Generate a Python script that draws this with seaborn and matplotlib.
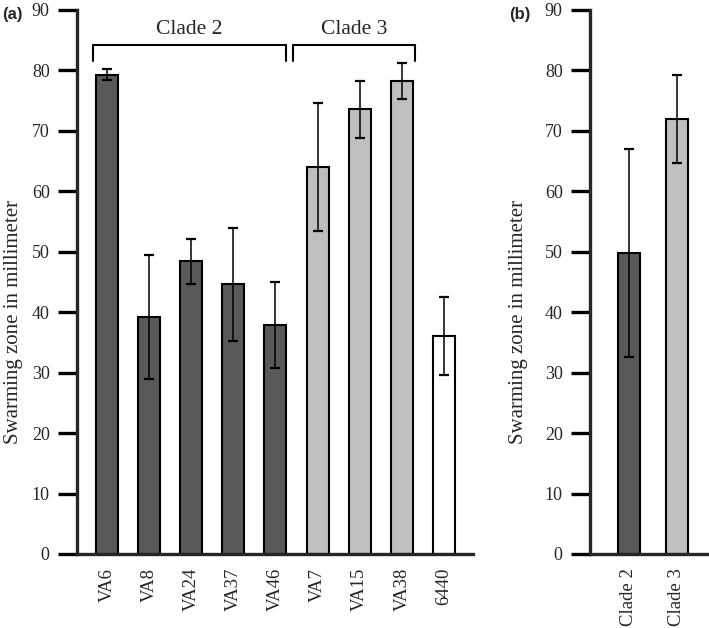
import matplotlib
matplotlib.use('Agg')  # Headless
import matplotlib.pyplot as plt
import seaborn as sns
import pandas as pd

# panel (a): strains
strains = ['VA6', 'VA8', 'VA24', 'VA37', 'VA46', 'VA7', 'VA15', 'VA38', '6440']
groups = ['Clade 2'] * 5 + ['Clade 3'] * 3 + ['Ref']
swarm_mm = [79.3, 39.2, 48.4, 44.6, 37.9, 64.0, 73.6, 78.3, 36.1]
swarm_err = [0.9, 10.3, 3.65, 9.35, 7.1, 10.6, 4.7, 2.95, 6.5]

# panel (b): clade means
clades = ['Clade 2', 'Clade 3']
clade_mm = [49.8, 72.0]
clade_err = [17.2, 7.3]

colors = {'Clade 2': '#595959', 'Clade 3': '#bfbfbf', 'Ref': '#ffffff'}

sns.set_style("ticks")
plt.rcParams['font.family'] = ['Liberation Serif', 'DejaVu Serif']
plt.rcParams['axes.linewidth'] = 2.4

df_a = pd.DataFrame({'strain': strains, 'group': groups, 'mm': swarm_mm})
df_b = pd.DataFrame({'clade': clades, 'mm': clade_mm})

fig = plt.figure(figsize=(7.09, 6.28), dpi=100)
ax1 = fig.add_axes([77 / 709, 74 / 628, 396 / 709, 544 / 628])
ax2 = fig.add_axes([590 / 709, 74 / 628, 118 / 709, 544 / 628])


def style_axis(ax):
    ax.set_ylim(0, 90)
    ax.set_yticks(range(0, 91, 10))
    sns.despine(ax=ax)
    ax.tick_params(axis='y', length=13.7, width=2.4, labelsize=13, pad=6, color='black')
    ax.tick_params(axis='x', length=0, labelsize=13.5, pad=10, rotation=90)
    ax.set_xlabel('')
    ax.set_ylabel('Swarming zone in millimeter', fontsize=15)


sns.barplot(data=df_a, x='strain', y='mm', hue='group', palette=colors, dodge=False,
            width=0.52, edgecolor='black', linewidth=1.5, legend=False, ax=ax1)
ax1.errorbar(range(len(strains)), swarm_mm, yerr=swarm_err, fmt='none', ecolor='black',
             elinewidth=1.1, capsize=3.3, capthick=1.6)
ax1.set_xlim(-0.71, len(strains) - 1 + 0.69)
style_axis(ax1)
ax1.yaxis.set_label_coords(-0.137, 0.426)

sns.barplot(data=df_b, x='clade', y='mm', hue='clade', palette=colors, dodge=False,
            width=0.46, edgecolor='black', linewidth=1.5, legend=False, ax=ax2)
ax2.errorbar(range(len(clades)), clade_mm, yerr=clade_err, fmt='none', ecolor='black',
             elinewidth=1.1, capsize=3.3, capthick=1.6)
ax2.set_xlim(-0.81, len(clades) - 1 + 0.65)
style_axis(ax2)
ax2.yaxis.set_label_coords(-0.525, 0.426)

# clade brackets above panel (a)
brackets = [('Clade 2', -0.33, 4.25), ('Clade 3', 4.42, 7.32)]
for name, x0, x1 in brackets:
    ax1.plot([x0, x0, x1, x1], [81.6, 84.2, 84.2, 81.6], color='black', lw=1.5,
             clip_on=False, solid_joinstyle='miter')
    ax1.text((x0 + x1) / 2, 85.2, name, ha='center', va='bottom', fontsize=15.5)

fig.text(2 / 709, 1 - 15 / 628, '(a)', fontsize=12, fontweight='bold',
         family=['Liberation Sans', 'DejaVu Sans'], va='center', ha='left')
fig.text(531 / 709, 1 - 15 / 628, '(b)', fontsize=12, fontweight='bold',
         family=['Liberation Sans', 'DejaVu Sans'], va='center', ha='right')

plt.savefig('out.png', dpi=100)
plt.close()
